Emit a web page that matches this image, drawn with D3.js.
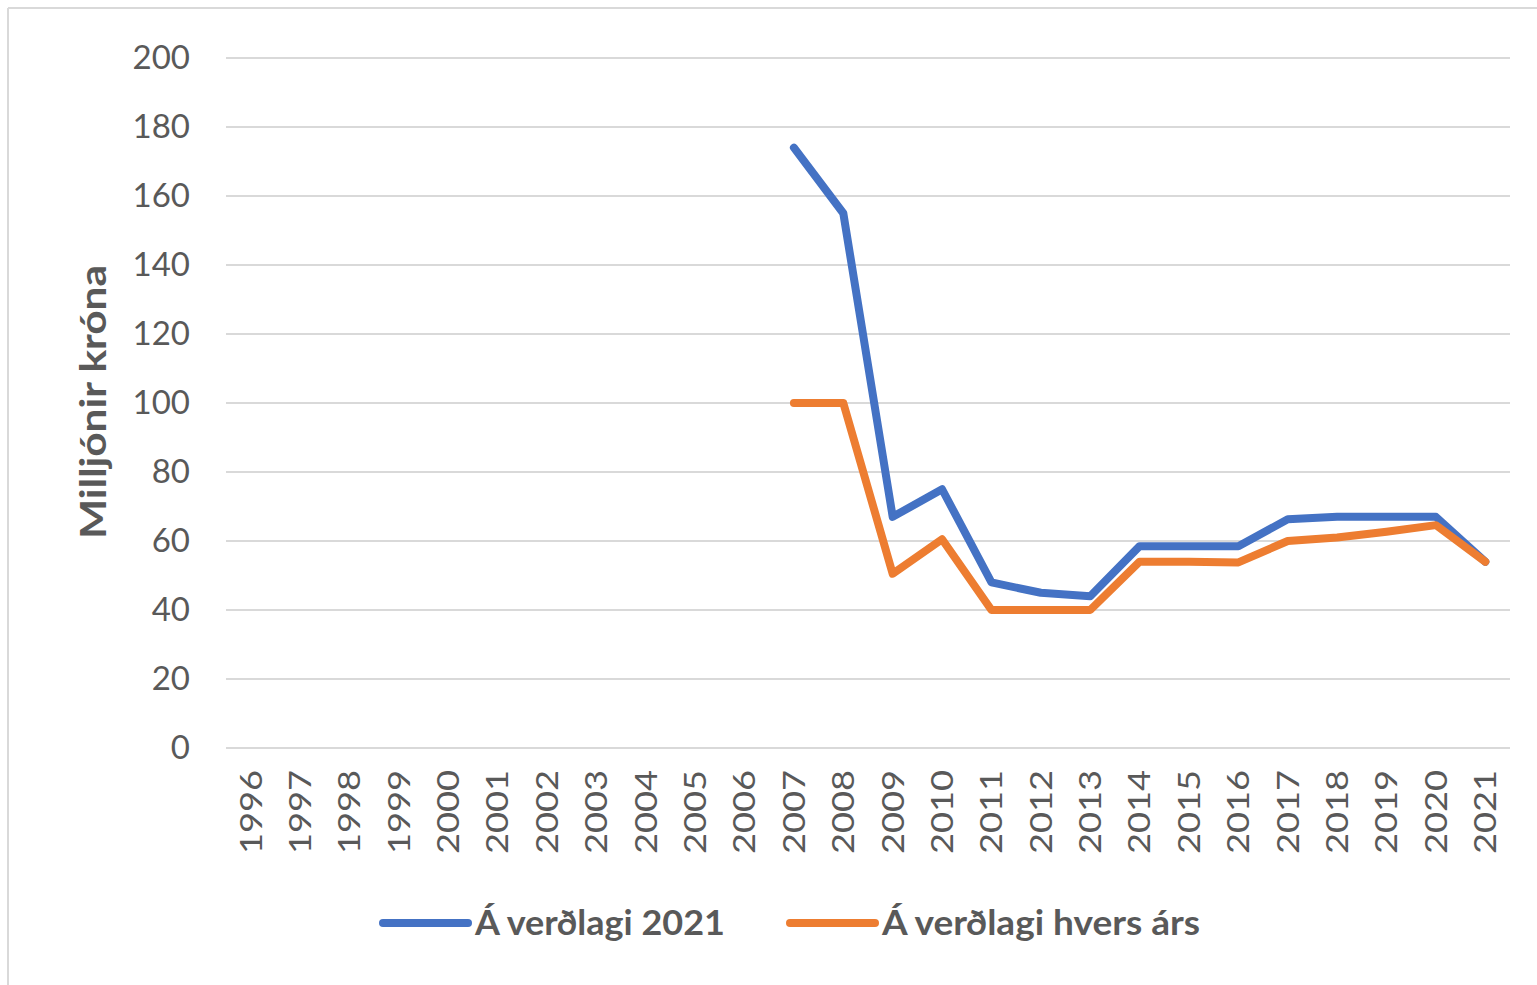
<!DOCTYPE html>
<html><head><meta charset="utf-8">
<script src="https://cdn.jsdelivr.net/npm/d3@7"></script>
<style>
html,body{margin:0;padding:0;background:#fff;}
svg{display:block;}
</style></head>
<body>
<svg id="chart" width="1537" height="985"></svg>
<script>
const years = ["1996","1997","1998","1999","2000","2001","2002","2003","2004","2005","2006","2007","2008","2009","2010","2011","2012","2013","2014","2015","2016","2017","2018","2019","2020","2021"];
const verdlag2021 = [null,null,null,null,null,null,null,null,null,null,null,174,155,67,75,48,45,44,58.5,58.5,58.5,66.3,67,67,67,54];
const verdlagHversArs = [null,null,null,null,null,null,null,null,null,null,null,100,100,50.5,60.5,40,40,40,54,54,53.8,60,61,62.7,64.6,54];
const yTicks = [0,20,40,60,80,100,120,140,160,180,200];
const seriesNames = ["Á verðlagi 2021","Á verðlagi hvers árs"];
const colors = ["#4472c4","#ed7d31"];
const yLabel = "Milljónir króna";

const svg = d3.select("#chart");
const font = "Lato, 'Open Sans', sans-serif";
const textColor = "#595959";

// outer frame
svg.append("line").attr("x1",8).attr("x2",1537).attr("y1",8).attr("y2",8).attr("stroke","#d9d9d9").attr("stroke-width",2);
svg.append("line").attr("x1",8).attr("x2",8).attr("y1",8).attr("y2",985).attr("stroke","#d9d9d9").attr("stroke-width",2);

const mLeft = 226, mRight = 1510, mTop = 58, mBottom = 748;
const x = d3.scaleBand().domain(years).range([mLeft,mRight]);
const y = d3.scaleLinear().domain([0,200]).range([mBottom,mTop]);

// gridlines
svg.append("g").selectAll("line").data(yTicks).join("line")
  .attr("x1",mLeft).attr("x2",mRight)
  .attr("y1",d=>y(d)).attr("y2",d=>y(d))
  .attr("stroke","#d9d9d9").attr("stroke-width",2);

// y axis
const yAxis = svg.append("g").attr("transform",`translate(${mLeft},0)`)
  .call(d3.axisLeft(y).tickValues(yTicks).tickSize(0).tickPadding(36));
yAxis.select(".domain").remove();
yAxis.selectAll("text").attr("font-family",font).attr("font-size",33).attr("fill",textColor);

// x axis
const xAxis = svg.append("g").attr("transform",`translate(0,${mBottom})`)
  .call(d3.axisBottom(x).tickSize(0));
xAxis.select(".domain").remove();
xAxis.selectAll("text")
  .attr("font-family",font).attr("font-size",31).attr("fill",textColor)
  .attr("transform","rotate(-90)")
  .attr("text-anchor","end").attr("x",-22).attr("y",0).attr("dy","0.35em")
  .attr("textLength",84).attr("lengthAdjust","spacingAndGlyphs");

// y label
svg.append("text").attr("transform","translate(93,402) rotate(-90)")
  .attr("text-anchor","middle").attr("dy","0.35em")
  .attr("font-family",font).attr("font-weight","bold").attr("font-size",36).attr("fill",textColor)
  .attr("textLength",274).attr("lengthAdjust","spacingAndGlyphs")
  .text(yLabel);

// lines
const line = d3.line().defined(d=>d.v!=null).x(d=>x(d.year)+x.bandwidth()/2).y(d=>y(d.v));
[verdlag2021, verdlagHversArs].forEach((arr,i)=>{
  svg.append("path").datum(years.map((yr,j)=>({year:yr,v:arr[j]})))
    .attr("d",line).attr("fill","none").attr("stroke",colors[i])
    .attr("stroke-width",8).attr("stroke-linejoin","round").attr("stroke-linecap","round");
});

// legend
const legendX = [383, 790];
const legendLen = [250, 318];
seriesNames.forEach((name,i)=>{
  const g = svg.append("g").attr("transform",`translate(${legendX[i]},923)`);
  g.append("line").attr("x1",0).attr("x2",85).attr("y1",0).attr("y2",0)
    .attr("stroke",colors[i]).attr("stroke-width",8).attr("stroke-linecap","round");
  g.append("text").attr("x",92).attr("dy","0.35em")
    .attr("font-family",font).attr("font-weight","bold").attr("font-size",35).attr("fill",textColor)
    .attr("textLength",legendLen[i]).attr("lengthAdjust","spacingAndGlyphs")
    .text(name);
});
</script>
</body></html>
